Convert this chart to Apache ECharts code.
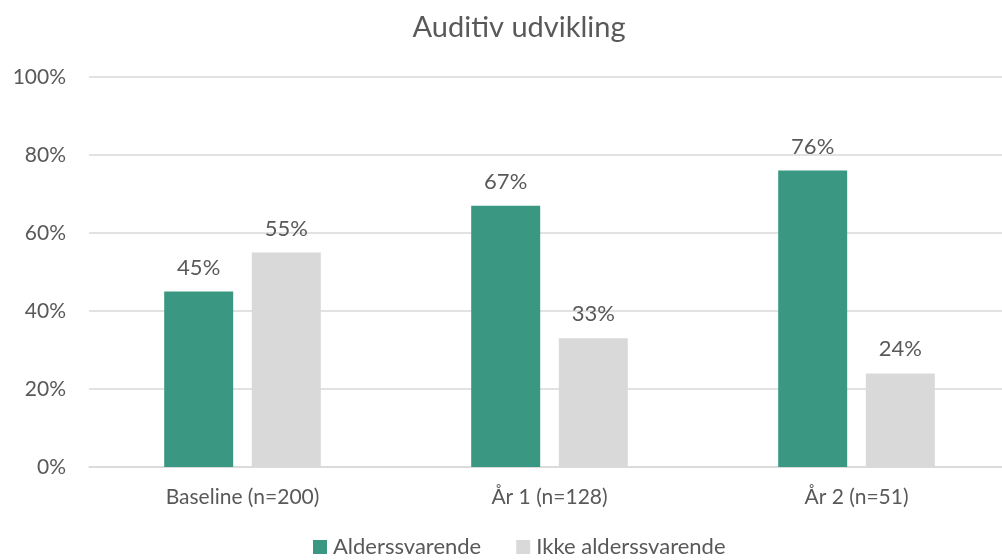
<!DOCTYPE html>
<html>
<head>
<meta charset="utf-8">
<script src="https://cdn.jsdelivr.net/npm/echarts@6/dist/echarts.min.js"></script>
<style>html,body{margin:0;padding:0;background:#fff;overflow:hidden}#c{width:1012px;height:560px}</style>
</head>
<body>
<div id="c"></div>
<script>
const title = 'Auditiv udvikling';
const categories = ['Baseline (n=200)', 'År 1 (n=128)', 'År 2 (n=51)'];
const seriesNames = ['Alderssvarende', 'Ikke alderssvarende'];
const alderssvarende = [45, 67, 76];
const ikkeAlderssvarende = [55, 33, 24];
const yTicks = [0, 20, 40, 60, 80, 100];

const FONT = 'Lato, "Open Sans", sans-serif';
const TXT = '#595959';
const chart = echarts.init(document.getElementById('c'), null, {renderer: 'canvas'});
chart.setOption({
  animation: false,
  textStyle: {fontFamily: FONT},
  title: {
    text: title, left: 514, top: 8, textAlign: 'center',
    textStyle: {fontFamily: FONT, fontSize: 29, fontWeight: 'normal', color: TXT}
  },
  legend: {
    data: seriesNames, bottom: -3, left: 308,
    itemWidth: 14, itemHeight: 14, itemGap: 35, icon: 'rect',
    textStyle: {fontFamily: FONT, fontSize: 22, color: TXT, padding: [0, 0, 0, 1]}
  },
  grid: {left: 89, right: 2, top: 77, bottom: 93, containLabel: false},
  xAxis: {
    type: 'category', data: categories,
    axisLine: {lineStyle: {color: '#D9D9D9', width: 1.5}},
    axisTick: {show: false},
    axisLabel: {fontFamily: FONT, fontSize: 21, color: TXT, margin: 20}
  },
  yAxis: {
    type: 'value', min: yTicks[0], max: yTicks[yTicks.length - 1], interval: 20,
    axisLine: {show: false}, axisTick: {show: false},
    axisLabel: {fontFamily: FONT, fontSize: 21, color: TXT, margin: 23, formatter: '{value}%'},
    splitLine: {lineStyle: {color: '#D9D9D9', width: 1.5}}
  },
  series: [
    {
      name: seriesNames[0], type: 'bar', data: alderssvarende,
      barWidth: 69, barGap: '27%',
      itemStyle: {color: '#3A9882'},
      label: {show: true, position: 'top', distance: 13, formatter: '{c}%', fontFamily: FONT, fontSize: 22, color: TXT}
    },
    {
      name: seriesNames[1], type: 'bar', data: ikkeAlderssvarende,
      barWidth: 69, barGap: '27%',
      itemStyle: {color: '#D9D9D9'},
      label: {show: true, position: 'top', distance: 13, formatter: '{c}%', fontFamily: FONT, fontSize: 22, color: TXT}
    }
  ]
});
</script>
</body>
</html>
